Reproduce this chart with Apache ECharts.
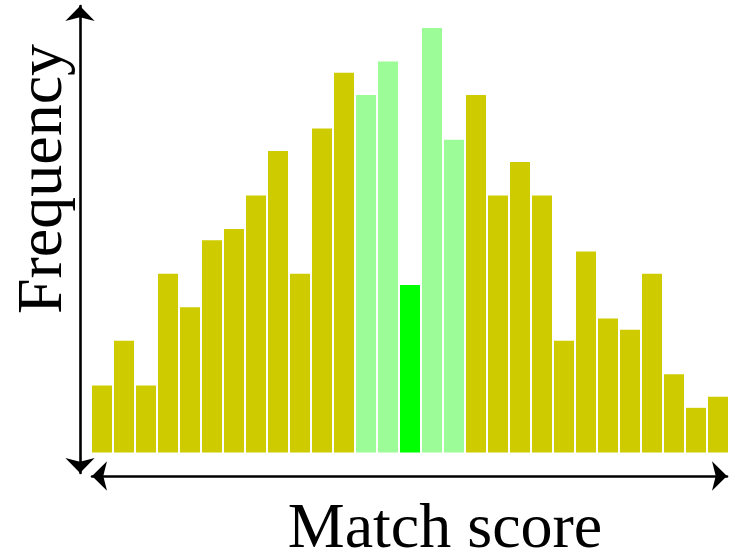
<!DOCTYPE html>
<html>
<head>
<meta charset="utf-8">
<script src="https://cdn.jsdelivr.net/npm/echarts@6/dist/echarts.min.js"></script>
<style>
  html, body { margin: 0; padding: 0; background: #ffffff; }
  #chart { width: 730px; height: 557px; }
</style>
</head>
<body>
<div id="chart"></div>
<script>
// Histogram bins (match score bins, left to right)
const categories = ['1','2','3','4','5','6','7','8','9','10','11','12','13','14','15',
                    '16','17','18','19','20','21','22','23','24','25','26','27','28','29'];
// Frequency per bin
const frequencies = [6, 10, 6, 16, 13, 19, 20, 23, 27, 16, 29, 34, 32, 35, 15,
                     38, 28, 32, 23, 26, 23, 10, 18, 12, 11, 16, 7, 4, 5];
// Bin group: 'base' = ordinary bin, 'near' = neighbouring bins, 'match' = the match bin
const binGroup = ['base','base','base','base','base','base','base','base','base','base','base','base',
                  'near','near','match','near','near',
                  'base','base','base','base','base','base','base','base','base','base','base','base'];
const axisTitles = { x: 'Match score', y: 'Frequency' };

const groupColor = { base: '#cecc00', near: '#9cfd98', match: '#00ff00' };
const serif = '"Liberation Serif", "DejaVu Serif", serif';

const chart = echarts.init(document.getElementById('chart'), null, { renderer: 'canvas' });

const arrowLine = {
  show: true,
  onZero: false,
  symbol: ['arrow', 'arrow'],
  symbolSize: [22, 15],
  lineStyle: { color: '#000000', width: 2.6 }
};

chart.setOption({
  animation: false,
  backgroundColor: '#ffffff',
  grid: [
    { left: 91, right: 1, top: 5.7, bottom: 104.5 },
    { left: 80, right: 649, top: 6, bottom: 84 },
    { left: 92, right: 3, top: 475, bottom: 81 }
  ],
  xAxis: [
    { gridIndex: 0, type: 'category', data: categories, show: false },
    { gridIndex: 1, type: 'value', show: false },
    { gridIndex: 2, type: 'value', position: 'bottom', min: 0, max: 1,
      axisLine: arrowLine, axisTick: { show: false }, axisLabel: { show: false }, splitLine: { show: false } }
  ],
  yAxis: [
    { gridIndex: 0, type: 'value', min: 0, max: 40, show: false },
    { gridIndex: 1, type: 'value', position: 'left', min: 0, max: 1,
      axisLine: arrowLine, axisTick: { show: false }, axisLabel: { show: false }, splitLine: { show: false } },
    { gridIndex: 2, type: 'value', show: false }
  ],
  series: [{
    type: 'bar',
    xAxisIndex: 0,
    yAxisIndex: 0,
    barWidth: 20,
    data: frequencies.map((v, i) => ({
      value: v,
      itemStyle: { color: groupColor[binGroup[i]] }
    }))
  }],
  graphic: [
    {
      type: 'text',
      x: 445, y: 530,
      style: {
        text: axisTitles.x,
        font: '64px ' + serif,
        fill: '#000000',
        textAlign: 'center',
        textVerticalAlign: 'middle'
      }
    },
    {
      type: 'text',
      x: 44, y: 179,
      rotation: Math.PI / 2,
      style: {
        text: axisTitles.y,
        font: '64px ' + serif,
        fill: '#000000',
        textAlign: 'center',
        textVerticalAlign: 'middle'
      }
    }
  ]
});
</script>
</body>
</html>
